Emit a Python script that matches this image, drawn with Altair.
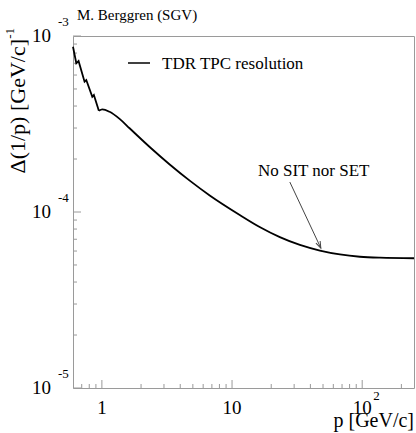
import altair as alt
import pandas as pd

# ---- data ----
# low-momentum, jagged part of the curve
p_low = [0.6, 0.636, 0.662, 0.736, 0.759, 0.844, 0.868, 0.948]
v_low = [8.69e-4, 7.00e-4, 7.21e-4, 5.50e-4, 5.62e-4, 4.52e-4, 4.62e-4, 3.76e-4]
# smooth part of the curve
p_high = [0.948, 1.007, 1.146, 1.368, 1.633, 2.33, 3.32, 4.73, 6.74, 11.46,
          16.3, 23.3, 33.2, 47.3, 67.4, 96.0, 136.8, 250]
v_high = [3.76e-4, 3.83e-4, 3.71e-4, 3.38e-4, 2.99e-4, 2.34e-4, 1.862e-4, 1.507e-4,
          1.242e-4, 9.62e-5, 8.22e-5, 7.20e-5, 6.50e-5, 6.04e-5, 5.74e-5, 5.57e-5,
          5.50e-5, 5.46e-5]

# axis ticks
y_major = [1e-5, 1e-4, 1e-3]
y_minor = [2e-5, 3e-5, 4e-5, 5e-5, 6e-5, 7e-5, 8e-5, 9e-5,
           2e-4, 3e-4, 4e-4, 5e-4, 6e-4, 7e-4, 8e-4, 9e-4]
x_major = [1, 10, 100]
x_minor = [0.7, 0.8, 0.9, 2, 3, 4, 5, 6, 7, 8, 9,
           20, 30, 40, 50, 60, 70, 80, 90, 200]

# tick labels
y_lab_vals = [1e-3, 1e-4, 1e-5]
y_lab_base = ["10", "10", "10"]
y_lab_exp = ["-3", "-4", "-5"]
x_lab_vals = [1, 10, 100]
x_lab_base = ["1", "10", "10"]
x_lab_exp = ["", "", "2"]

# annotation
ann_text = ["No SIT nor SET"]
ann_p, ann_v = [15.8], [1.72e-4]
arrow_p0, arrow_v0 = [27.8], [1.48e-4]
arrow_p1, arrow_v1 = [48.1], [6.24e-5]

W, H = 341, 352
FONT = "Liberation Serif"
GREY = "#9a9a9a"

xs = alt.Scale(type="log", domain=[0.6, 250], nice=False)
ys = alt.Scale(type="log", domain=[1e-5, 1e-3], nice=False)


def X(f):
    return alt.X(f, type="quantitative", scale=xs, axis=None)


def Y(f):
    return alt.Y(f, type="quantitative", scale=ys, axis=None)


low = pd.DataFrame({"p": p_low, "v": v_low})
high = pd.DataFrame({"p": p_high, "v": v_high})

line_low = alt.Chart(low).mark_line(color="black", strokeWidth=1.8).encode(x=X("p"), y=Y("v"))
line_high = alt.Chart(high).mark_line(color="black", strokeWidth=1.8, interpolate="monotone").encode(
    x=X("p"), y=Y("v"))

# ticks (inward, ROOT style)
ymaj = alt.Chart(pd.DataFrame({"v": y_major})).mark_rule(color=GREY, strokeWidth=1).encode(
    y=Y("v"), x=alt.value(0), x2=alt.value(8))
ymin = alt.Chart(pd.DataFrame({"v": y_minor})).mark_rule(color=GREY, strokeWidth=1).encode(
    y=Y("v"), x=alt.value(0), x2=alt.value(4))
xmaj = alt.Chart(pd.DataFrame({"p": x_major})).mark_rule(color=GREY, strokeWidth=1).encode(
    x=X("p"), y=alt.value(H), y2=alt.value(H - 8))
xmin = alt.Chart(pd.DataFrame({"p": x_minor})).mark_rule(color=GREY, strokeWidth=1).encode(
    x=X("p"), y=alt.value(H), y2=alt.value(H - 4))

# tick labels
ylab_df = pd.DataFrame({"v": y_lab_vals, "base": y_lab_base, "exp": y_lab_exp})
ylab = alt.Chart(ylab_df).mark_text(font=FONT, fontSize=19, align="right", baseline="middle",
                                    color="black").encode(y=Y("v"), x=alt.value(-22), text="base:N")
yexp = alt.Chart(ylab_df).mark_text(font=FONT, fontSize=13, align="left", baseline="middle",
                                    dy=-14, color="black").encode(y=Y("v"), x=alt.value(-15), text="exp:N")

xlab_df = pd.DataFrame({"p": x_lab_vals, "base": x_lab_base, "exp": x_lab_exp})
xlab = alt.Chart(xlab_df).mark_text(font=FONT, fontSize=19, align="center", baseline="middle",
                                    dy=20, color="black").encode(x=X("p"), y=alt.value(H), text="base:N")
xexp = alt.Chart(xlab_df).mark_text(font=FONT, fontSize=13, align="left", baseline="middle",
                                    dx=11, dy=8, color="black").encode(x=X("p"), y=alt.value(H), text="exp:N")

# axis titles
xtitle = alt.Chart(pd.DataFrame({"t": ["p [GeV/c]"]})).mark_text(
    font=FONT, fontSize=20, align="right", baseline="alphabetic", color="black").encode(
    x=alt.value(W), y=alt.value(H + 39), text="t:N")
ytitle = alt.Chart(pd.DataFrame({"t": ["\u0394(1/p) [GeV/c]"]})).mark_text(
    font=FONT, fontSize=22, align="right", baseline="middle", angle=270, color="black").encode(
    x=alt.value(-55), y=alt.value(3), text="t:N")
ytitle_exp = alt.Chart(pd.DataFrame({"t": ["-1"]})).mark_text(
    font=FONT, fontSize=13, align="right", baseline="middle", angle=270, color="black").encode(
    x=alt.value(-63), y=alt.value(-8), text="t:N")

# top-left title
title = alt.Chart(pd.DataFrame({"t": ["M. Berggren (SGV)"]})).mark_text(
    font=FONT, fontSize=15, align="left", baseline="alphabetic", color="black").encode(
    x=alt.value(4), y=alt.value(-16), text="t:N")

# legend
leg_line = alt.Chart(pd.DataFrame({"k": [0]})).mark_rule(color="black", strokeWidth=1.5).encode(
    x=alt.value(55), x2=alt.value(77), y=alt.value(27))
leg_text = alt.Chart(pd.DataFrame({"t": ["TDR TPC resolution"]})).mark_text(
    font=FONT, fontSize=17, align="left", baseline="middle", color="black").encode(
    x=alt.value(89), y=alt.value(27.5), text="t:N")

# annotation with arrow
ann = alt.Chart(pd.DataFrame({"p": ann_p, "v": ann_v, "t": ann_text})).mark_text(
    font=FONT, fontSize=17, align="left", baseline="middle", color="black").encode(
    x=X("p"), y=Y("v"), text="t:N")
arr_df = pd.DataFrame({"p0": arrow_p0, "v0": arrow_v0, "p1": arrow_p1, "v1": arrow_v1})
shaft = alt.Chart(arr_df).mark_rule(color="#444444", strokeWidth=1).encode(
    x=X("p0"), y=Y("v0"), x2="p1:Q", y2="v1:Q")
head = alt.Chart(arr_df).mark_point(
    shape="M -0.35 -1 L 0 0 L 0.35 -1", size=175, angle=335, filled=False,
    color="#444444", strokeWidth=1, opacity=1).encode(x=X("p1"), y=Y("v1"))

chart = alt.layer(
    ymin, ymaj, xmin, xmaj, line_low, line_high, ylab, yexp, xlab, xexp,
    xtitle, ytitle, ytitle_exp, title, leg_line, leg_text, ann, shaft, head
).properties(
    width=W, height=H,
    autosize=alt.AutoSizeParams(type="none"),
    padding={"left": 73, "top": 36, "right": 2, "bottom": 45},
    background="white",
).configure_view(stroke=GREY, strokeWidth=1)

chart.save("out.html", embed_options={"renderer": "svg", "actions": False})
